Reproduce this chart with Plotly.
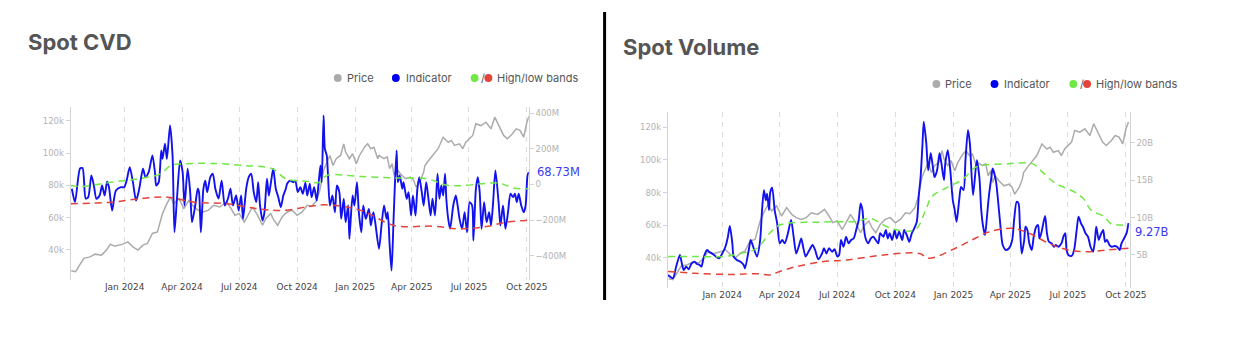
import pandas as pd
import plotly.graph_objects as go

# ---------------- DATA (x = days since 2024-01-01) ----------------
price_days = [-85,-78,-70,-65,-55,-47,-37,-29,-23,-16,-3,5,13,21,29,36,44,52,60,67,73,78,86,94,102,110,117,125,133,141,151,162,169,175,182,190,196,203,211,219,224,232,237,243,250,258,266,274,282,290,297,305,310,316,326,331,336,343,348,351,357,362,368,373,381,386,391,396,402,404,412,417,421,425,428,432,438,446,454,459,463,470,475,477,485,493,498,506,514,519,524,532,537,542,548,553,558,566,574,582,588,595,602,608,616,622,628,634,639,643]
price_k = [27.1,26.5,31.7,34.8,35.7,37.4,36.8,39.9,43.6,42.3,43.6,45.0,41.9,39.9,43.0,44.0,50.2,51.2,62.5,68.7,72.8,68.7,71.8,65.6,70.7,66.6,64.6,63.5,64.6,67.6,66.6,69.7,65.6,61.5,62.5,57.3,61.5,66.6,61.5,55.3,59.4,62.5,58.4,55.3,60.4,63.5,64.6,61.5,63.5,67.6,67.0,70.7,76.9,89.3,98.5,92.3,96.5,98.5,105.7,100.6,96.5,99.6,93.4,98.5,103.6,105.7,102.7,103.6,96.5,98.5,96.5,97.6,90.3,93.4,86.2,90.3,87.2,84.1,85.1,83.1,79.0,83.1,88.2,92.3,96.5,100.6,102.7,109.8,106.7,107.8,104.7,105.7,102.7,106.7,108.8,110.9,118.1,117.0,119.1,115.0,122.2,117.0,110.9,108.8,111.9,115.0,114.0,109.8,119.1,123.2]

cvd_days = [-84,-79,-71,-67,-62,-58,-53,-49,-45,-40,-36,-32,-28,-25,-20,-14,-6,-1,3,8,13,18,22,24,29,33,38,44,48,50,54,58,60,64,67,72,76,79,83,88,92,95,100,104,107,112,116,118,121,125,128,131,136,140,144,149,154,159,164,168,172,177,181,185,188,193,197,201,205,209,212,215,219,222,226,229,232,236,240,244,248,252,256,258,263,268,271,275,279,283,287,290,294,297,301,305,308,311,313,316,318,321,323,326,330,334,337,341,344,348,351,355,357,362,365,369,372,376,379,383,388,391,395,398,404,408,412,416,418,421,424,427,429,432,434,437,441,443,448,451,455,458,462,465,468,472,475,479,482,486,489,493,497,500,503,506,509,511,514,517,522,526,529,532,536,540,544,548,552,554,558,561,564,567,571,575,579,582,585,589,594,597,601,605,609,613,617,620,623,626,630,634,637,640,642]
cvd_m = [-24,-99,90,92,-79,-71,51,-6,-80,-62,-6,-62,17,-15,-146,-34,-15,-15,22,97,13,-90,-43,-6,88,41,69,163,69,-6,13,191,144,229,144,332,163,-268,-80,135,69,-118,88,-43,-212,-118,-24,-43,-268,-24,22,-43,41,60,-24,-79,22,-118,-80,-24,-118,-62,-146,-62,-193,-24,41,60,-43,-99,13,-118,-202,-156,32,-62,4,88,-24,-71,-127,-62,-24,4,22,13,22,-43,-15,-52,10,-62,4,-71,-15,-90,4,107,13,388,200,163,51,-118,-62,-156,-6,-43,-193,-80,-212,-118,-305,-62,-118,13,-156,-268,-118,-193,-137,-230,-156,-212,-361,-230,-118,-193,-156,-343,-483,-212,-24,191,13,51,-24,13,-80,-43,-174,-62,-174,-24,41,-43,-118,13,-62,-174,-80,-174,60,-80,-6,-62,60,-80,-193,-249,-118,-62,-118,-193,-249,-156,-268,-99,-118,-315,-24,41,-43,-249,-99,-212,-156,-230,-118,79,-99,-230,-118,-249,-156,-52,-71,-52,-99,-52,-118,-156,-118,50,68.73]

cvd_hi_days = [-86,-68,-21,21,57,73,94,141,188,235,256,292,308,321,376,428,480,516,595,616,636,642]
cvd_hi_m = [-6,-11,13,32,60,107,116,118,107,88,32,17,11,50,45,37,32,-6,7,-19,-24,-24]
cvd_lo_days = [-86,-21,31,68,110,162,214,250,292,318,376,428,490,532,574,605,636,642]
cvd_lo_m = [-108,-99,-77,-71,-99,-108,-137,-146,-124,-114,-146,-230,-234,-249,-236,-212,-202,-200]

vol_days = [-86,-78,-73,-67,-64,-61,-57,-53,-49,-44,-40,-36,-33,-29,-24,-21,-16,-10,-5,0,5,9,12,16,18,23,29,34,36,42,45,49,55,60,63,66,69,71,74,76,79,83,87,91,95,99,104,109,113,117,121,125,128,132,138,143,147,152,158,161,165,169,174,178,182,185,188,192,196,200,204,208,212,216,219,222,224,227,231,235,239,243,247,250,255,259,262,265,269,273,276,280,285,288,292,296,300,304,308,311,314,317,319,323,326,330,333,336,340,344,347,351,353,357,361,365,368,371,375,378,382,385,389,392,397,403,407,410,413,416,419,422,426,428,433,436,440,444,449,454,459,462,466,469,471,474,478,480,483,486,490,493,497,500,502,505,511,514,517,521,525,528,532,537,540,543,545,548,553,557,561,564,568,571,575,579,583,587,590,592,596,599,603,606,609,613,617,621,625,629,632,636,640,643]
vol_b = [2.33,1.9,3.44,5.0,3.9,3.0,3.44,3.1,3.8,4.1,3.8,3.67,3.44,4.8,5.67,5.44,5.2,4.8,4.56,5.2,6.1,7.44,8.87,6.56,4.8,4.33,4.1,3.67,3.2,5.67,7.0,6.1,4.8,7.0,11.0,13.67,12.3,13.2,11.0,13.4,14.0,11.0,9.2,6.56,7.0,6.56,7.9,9.67,7.44,5.2,6.1,7.2,6.1,4.8,5.67,6.33,5.67,4.43,5.2,5.9,5.2,5.9,5.44,5.76,4.8,5.0,7.0,6.1,7.44,6.56,7.0,7.2,8.33,9.67,11.9,11.0,8.77,7.2,6.56,7.2,7.44,7.0,6.56,7.9,7.44,8.33,7.2,7.9,7.0,8.33,7.2,8.1,7.0,8.33,7.67,6.77,7.9,8.56,9.44,12.8,15.4,19.9,22.8,19.9,16.3,18.6,17.0,15.4,16.3,18.6,17.2,15.0,17.2,19.0,16.3,12.3,11.0,9.44,12.3,14.1,13.67,17.67,21.7,19.9,13.0,17.67,15.4,11.0,8.77,7.67,10.1,12.8,15.4,16.56,15.0,12.8,9.2,6.33,5.67,5.9,7.0,9.67,12.1,11.9,9.2,5.2,7.0,8.77,8.33,6.56,5.67,7.44,8.77,9.0,7.2,7.9,10.2,7.9,6.77,6.56,6.1,6.33,6.1,6.56,7.44,7.9,5.67,5.0,4.87,5.67,8.33,10.1,9.2,8.77,7.9,7.44,6.1,5.44,7.0,8.77,7.0,7.67,8.33,6.77,7.0,6.33,6.1,6.2,6.1,5.67,6.56,7.2,7.9,9.27]

vol_hi_days = [-86,-44,3,29,55,75,91,158,213,234,260,280,306,322,332,358,379,395,403,454,491,504,527,558,571,584,605,615,643]
vol_hi_b = [4.8,4.8,4.8,5.2,5.9,7.9,9.0,9.4,9.5,9.9,8.8,8.3,8.4,11.0,12.8,14.1,15.0,16.3,16.8,17.2,17.2,16.3,14.6,13.4,12.6,11.0,10.1,9.2,9.0]
vol_lo_days = [-86,-44,13,55,75,91,117,158,197,255,312,327,369,400,423,460,486,517,548,579,610,643]
vol_lo_b = [2.8,2.56,2.4,2.5,2.33,2.8,3.44,4.1,4.33,5.0,5.2,4.56,5.9,7.2,8.1,8.56,7.9,6.56,5.67,5.44,5.67,5.9]

quarter_ticks = ["2024-01-01","2024-04-01","2024-07-01","2024-10-01","2025-01-01","2025-04-01","2025-07-01","2025-10-01"]
quarter_text = ["Jan 2024","Apr 2024","Jul 2024","Oct 2024","Jan 2025","Apr 2025","Jul 2025","Oct 2025"]
price_ticks = [40,60,80,100,120]
price_text = ["40k","60k","80k","100k","120k"]
cvd_ticks = [-400,-200,0,200,400]
cvd_text = ["\u2212400M","\u2212200M","0","200M","400M"]
vol_ticks = [5,10,15,20]
vol_text = ["5B","10B","15B","20B"]

# ---------------- STYLE ----------------
BASE = pd.Timestamp("2024-01-01")
def d(days):
    return BASE + pd.to_timedelta(days, unit="D")

W, H = 1240, 347
def fx(px): return px / W
def fy(py): return 1 - py / H

C_PRICE = "#ababab"
C_IND = "#1212ee"
C_HI = "#6fe845"
C_LO = "#e4433a"
BAND_DASH = "7px,5px"

fig = go.Figure()

def add(x, y, xa, ya, color, width, dash=None, smooth=0.0):
    line = dict(color=color, width=width, dash=dash)
    if smooth:
        line.update(shape="spline", smoothing=smooth)
    fig.add_trace(go.Scatter(x=d(x), y=y, xaxis=xa, yaxis=ya, mode="lines",
                             line=line, hoverinfo="skip", showlegend=False))

# left chart
add(price_days, price_k, "x", "y", C_PRICE, 1.5)
add(cvd_days, cvd_m, "x", "y2", C_IND, 1.9, smooth=0.7)
add(cvd_hi_days, cvd_hi_m, "x", "y2", C_HI, 1.5, BAND_DASH, smooth=1.0)
add(cvd_lo_days, cvd_lo_m, "x", "y2", C_LO, 1.5, BAND_DASH, smooth=1.0)
# right chart
add(price_days, price_k, "x2", "y3", C_PRICE, 1.5)
add(vol_days, vol_b, "x2", "y4", C_IND, 1.9, smooth=0.7)
add(vol_hi_days, vol_hi_b, "x2", "y4", C_HI, 1.5, BAND_DASH, smooth=1.0)
add(vol_lo_days, vol_lo_b, "x2", "y4", C_LO, 1.5, BAND_DASH, smooth=1.0)

tick_font_x = dict(family="DejaVu Sans", size=9, color="#444444")
tick_font_y = dict(family="DejaVu Sans", size=8.5, color="#b3b3b3")

def xax(domain, anchor, rng):
    return dict(domain=domain, anchor=anchor, range=rng, type="date",
                tickvals=quarter_ticks, ticktext=quarter_text, tickfont=tick_font_x,
                showgrid=True, gridcolor="#dddddd", griddash="5px,5px", gridwidth=1,
                showline=False, zeroline=False, ticks="", fixedrange=True)

def yax(rng, tv, tt, side="left", **kw):
    a = dict(range=rng, tickvals=tv, ticktext=tt, tickfont=tick_font_y, side=side,
             showgrid=False, zeroline=False, showline=True, linecolor="#d4d4d4", linewidth=1,
             ticks="outside", ticklen=4, tickcolor="#d4d4d4", fixedrange=True)
    a.update(kw)
    return a

fig.update_layout(
    width=W, height=H, margin=dict(l=0, r=0, t=0, b=0),
    paper_bgcolor="white", plot_bgcolor="white", showlegend=False,
    xaxis=xax([fx(71.7), fx(537)], "y", [d(-86), d(642)]),
    yaxis=yax([21.4, 128.5], price_ticks, price_text, "left",
              domain=[fy(280), fy(107)], anchor="x"),
    yaxis2=yax([-536, 435], cvd_ticks, cvd_text, "right", overlaying="y", anchor="x"),
    xaxis2=xax([fx(678.3), fx(1147.3)], "y3", [d(-86), d(645)]),
    yaxis3=yax([21.6, 129.4], price_ticks, price_text, "left",
               domain=[fy(287.7), fy(112)], anchor="x2"),
    yaxis4=yax([0.63, 24.1], vol_ticks, vol_text, "right", overlaying="y3", anchor="x2"),
)

shapes = [dict(type="line", xref="paper", yref="paper", x0=fx(614), x1=fx(614),
               y0=fy(12), y1=fy(300), line=dict(color="black", width=3))]
annotations = []

def title(txt, px, py):
    annotations.append(dict(text=f"<b>{txt}</b>", xref="paper", yref="paper", x=fx(px), y=fy(py),
                            xanchor="left", yanchor="middle", showarrow=False,
                            font=dict(family="Inter", size=22, color="#555555")))

def dot(px, py, color, r=4):
    shapes.append(dict(type="circle", xref="paper", yref="paper",
                       x0=fx(px - r), x1=fx(px + r), y0=fy(py + r), y1=fy(py - r),
                       fillcolor=color, line=dict(width=0)))

def label(txt, px, py, color="#555555", size=11):
    annotations.append(dict(text=txt, xref="paper", yref="paper", x=fx(px), y=fy(py),
                            xanchor="left", yanchor="middle", showarrow=False,
                            font=dict(family="Inter", size=size, color=color)))

def legend(x0, py):
    dot(x0, py, C_PRICE)
    label("Price", x0 + 7, py)
    dot(x0 + 59, py, "#0000ee")
    label("Indicator", x0 + 67, py)
    dot(x0 + 139, py, C_HI)
    label("/", x0 + 143.5, py)
    dot(x0 + 153, py, C_LO)
    label("High/low bands", x0 + 160, py)

title("Spot CVD", 26, 42)
title("Spot Volume", 631, 47)
legend(343, 78)
legend(951, 84)

annotations.append(dict(text=f"{cvd_m[-1]:.2f}M", xref="paper", yref="y2", x=fx(543), y=cvd_m[-1],
                        xanchor="left", yanchor="middle", showarrow=False,
                        font=dict(family="DejaVu Sans", size=11.5, color="#3a3af2")))
annotations.append(dict(text=f"{vol_b[-1]:.2f}B", xref="paper", yref="y4", x=fx(1151), y=vol_b[-1],
                        xanchor="left", yanchor="middle", yshift=-9, showarrow=False,
                        font=dict(family="DejaVu Sans", size=11.5, color="#3a3af2")))

fig.update_layout(shapes=shapes, annotations=annotations)
fig.write_html("out.html", config={"displayModeBar": False})
